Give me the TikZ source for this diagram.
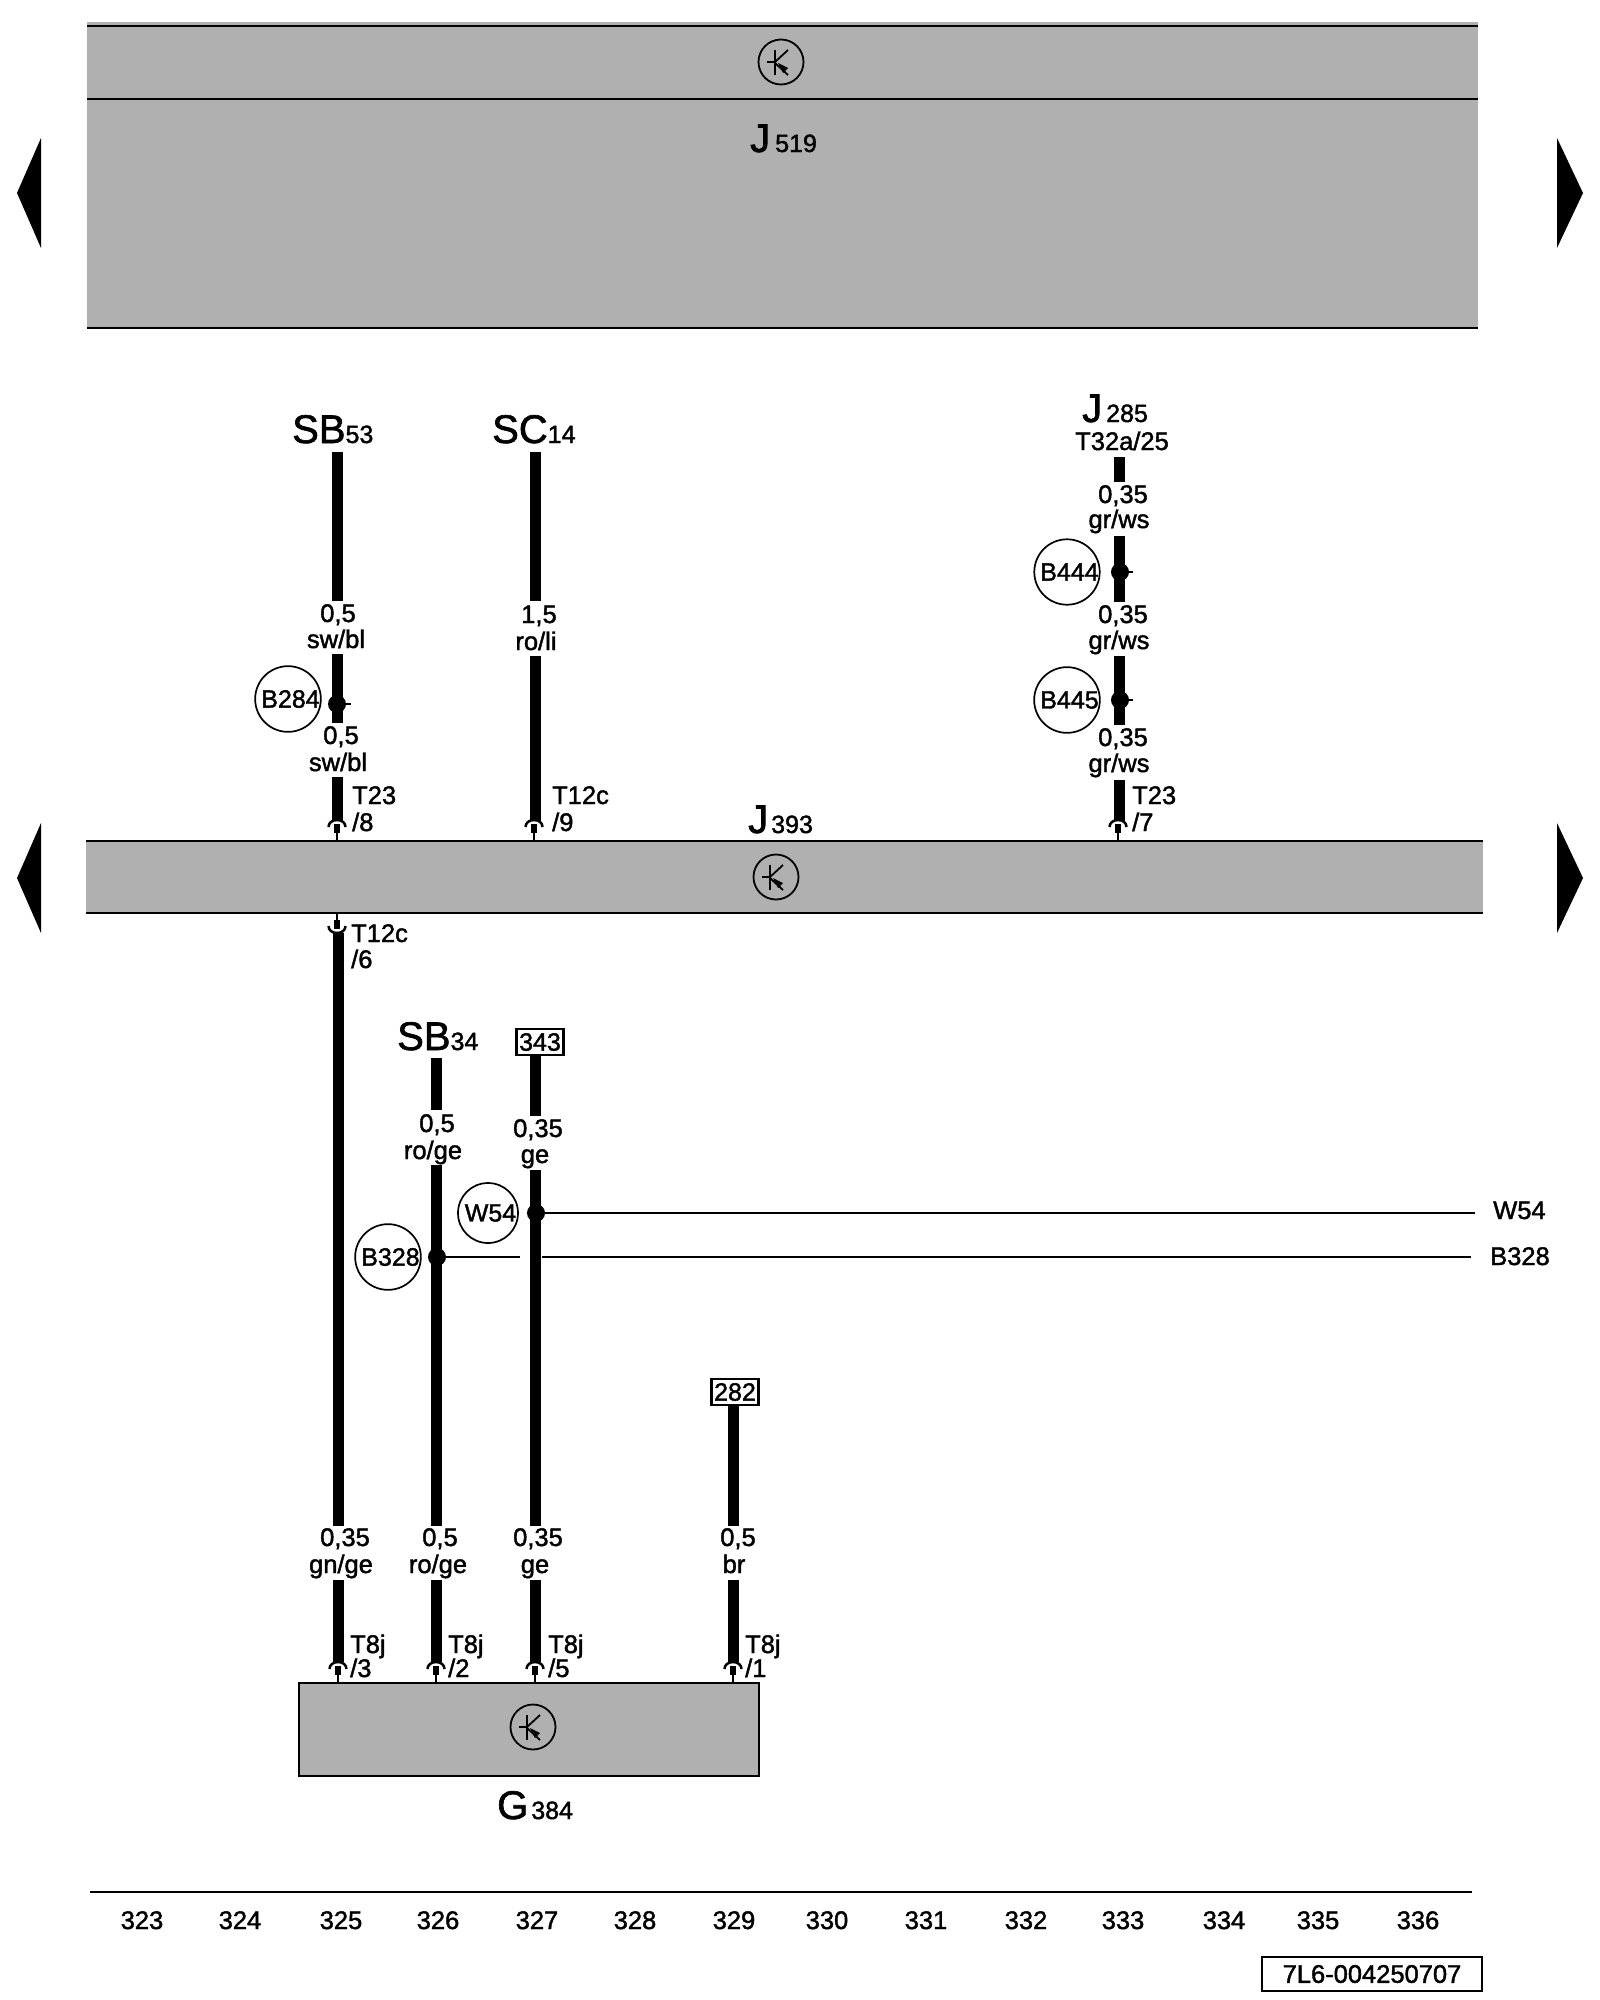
\documentclass[tikz,border=0pt]{standalone}
\usepackage{fontspec}
\setmainfont{Liberation Sans}[RawFeature={embolden=1.6}]
\definecolor{bandgray}{RGB}{176,176,176}
\newcommand{\reftag}[3]{{\fontsize{40}{40}\selectfont #1}\hspace{#3}{\fontsize{25}{25}\selectfont #2}}
\tikzset{
  pinup/.pic={
    \draw[line width=2.5] (-8.5,7) .. controls (-8.5,3) and (-5,0) .. (0,0) .. controls (5,0) and (8.5,3) .. (8.5,7);
    \draw[line width=6] (0,4) -- (0,13);
    \draw[line width=2] (0,13) -- (0,20);
  },
  transistor/.pic={
    \draw[line width=1.8] (-6,-12) -- (-6,13);
    \draw[line width=1.8] (-14,0) -- (-6,0);
    \draw[line width=1.8] (-6,0) -- (7,-12);
    \draw[line width=1.8] (-6,1) -- (7,13);
    \fill (-3,1) -- (7,6) -- (2,11) -- cycle;
  }
}
\begin{document}
\begin{tikzpicture}[x=1pt,y=-1pt]
    \tikzstyle{wire}=[line width=11]
    \tikzstyle{thin wire}=[line width=2]
    \tikzstyle{splice}=[circle,fill=black,inner sep=0,minimum size=18]
    \tikzstyle{ref circle}=[circle,draw,line width=1.7,inner sep=0,minimum size=60,font=\fontsize{25}{25}\selectfont,execute at begin node={\hspace*{5pt}}]
    \tikzstyle{trans circle}=[circle,draw,line width=1.8,inner sep=0,minimum size=45]
    \tikzstyle{wire label}=[anchor=base,inner sep=0,font=\fontsize{25.5}{25.5}\selectfont]
    \tikzstyle{pin label}=[anchor=base west,inner sep=0,font=\fontsize{25.5}{25.5}\selectfont]
    \tikzstyle{ref label}=[anchor=base west,inner sep=0]
    \tikzstyle{page box}=[draw,line width=2.5,inner sep=0,minimum width=47,minimum height=26,font=\fontsize{25}{25}\selectfont]

    \useasboundingbox (0,0) rectangle (1600,2000);

    % control units
    \fill[bandgray] (87,22) rectangle (1478,328);
    \draw[line width=2] (87,26) -- (1478,26);
    \draw[line width=2] (87,99) -- (1478,99);
    \draw[line width=2] (87,328) -- (1478,328);
    \fill[bandgray] (86,841) rectangle (1483,913);
    \draw[line width=2] (86,841) -- (1483,841);
    \draw[line width=2] (86,913) -- (1483,913);
    \node(g384)[draw,line width=2,fill=bandgray,minimum width=460,minimum height=93,inner sep=0] at (529,1729.5){};

    \node(t519)[trans circle] at (781,62){};
    \pic at (t519) {transistor};
    \node(t393)[trans circle] at (776,877){};
    \pic at (t393) {transistor};
    \node(tg384)[trans circle] at (533,1727){};
    \pic at (tg384) {transistor};

    % page arrows
    \foreach \ytop/\ytip/\ybot in {138/193/248,823/878/933}{
        \fill (41,\ytop) -- (17,\ytip) -- (41,\ybot) -- cycle;
        \fill (1557,\ytop) -- (1583,\ytip) -- (1557,\ybot) -- cycle;
    }

    % wires
    \foreach \wname/\xpos/\ytop/\ybot in {
        a1/337/452/601,a2/337/654/723,a3/337/777/821,
        b1/535/452/601,b2/535/656/821,
        c1/1119/457/482,c2/1119/536/602,c3/1119/656/725,c4/1119/780/821,
        d1/338/933/1526,d2/338/1580/1662,
        e1/436/1058/1110,e2/436/1165/1526,e3/436/1580/1662,
        f1/535/1055/1116,f2/535/1170/1526,f3/535/1580/1662,
        g1/733/1405/1526,g2/733/1580/1662}{
        \coordinate(\wname top) at (\xpos,\ytop);
        \coordinate(\wname bot) at (\xpos,\ybot);
        \draw[wire] (\wname top) -- (\wname bot);
    }

    % connector pins
    \foreach \xpos/\ypos in {337/820,534/820,1118/820,338/1662,436/1662,535/1662,733/1662}{
        \pic at (\xpos,\ypos) {pinup};
    }
    \pic[yscale=-1] at (337,933) {pinup};

    % splices
    \node(s284)[splice] at (337,704){};
    \node(s444)[splice] at (1120,572){};
    \node(s445)[splice] at (1120,700){};
    \node(s54)[splice] at (536,1213){};
    \node(s328)[splice] at (437,1257){};
    \coordinate(e284) at (351,704);
    \coordinate(e444) at (1133,572);
    \coordinate(e445) at (1133,700);
    \coordinate(e54) at (1475,1213);
    \coordinate(b328a) at (520,1257);
    \coordinate(b328b) at (542,1257);
    \coordinate(e328) at (1471,1257);
    \draw[thin wire] (s284) -- (e284);
    \draw[thin wire] (s444) -- (e444);
    \draw[thin wire] (s445) -- (e445);
    \draw[thin wire] (s54) -- (e54);
    \draw[thin wire] (s328) -- (b328a);
    \draw[thin wire] (b328b) -- (e328);

    \node(c284)[ref circle] at (288,699){B284};
    \node(c444)[ref circle] at (1067,572){B444};
    \node(c445)[ref circle] at (1067,700){B445};
    \node(c54)[ref circle,execute at begin node={}] at (488,1213){W54};
    \node(c328)[ref circle] at (388,1257){B328};

    % wire sizes and colours
    \foreach \xpos/\ypos/\txt [count=\i] in {
        338/622/{0,5},336/648/sw\slash bl,341/744/{0,5},338/771/sw\slash bl,
        539/623/{1,5},536/650/ro\slash li,
        1122/450/T32a\slash 25,
        1123/503/{0,35},1119/528/gr\slash ws,1123/623/{0,35},1119/649/gr\slash ws,
        1123/746/{0,35},1119/772/gr\slash ws,
        437/1132/{0,5},433/1159/ro\slash ge,538/1137/{0,35},535/1163/ge,
        345/1546/{0,35},341/1573/gn\slash ge,440/1546/{0,5},438/1573/ro\slash ge,
        538/1546/{0,35},535/1573/ge,738/1546/{0,5},734/1573/br}{
        \node(w\i)[wire label] at (\xpos,\ypos){\txt};
    }

    % pin names
    \foreach \xpos/\ypos/\txt [count=\i] in {
        352/804/T23,352/831/\slash 8,552/804/T12c,552/831/\slash 9,
        1132/804/T23,1132/831/\slash 7,351/942/T12c,351/968/\slash 6,
        350/1653/T8j,350/1677/\slash 3,448/1653/T8j,448/1677/\slash 2,
        548/1653/T8j,548/1677/\slash 5,745/1653/T8j,745/1677/\slash 1,
        1493/1219/W54,1490/1265/B328}{
        \node(p\i)[pin label] at (\xpos,\ypos){\txt};
    }

    % component names
    \node(n519)[ref label] at (750,152){\reftag{J}{519}{5pt}};
    \node(n393)[ref label] at (748,833){\reftag{J}{393}{3pt}};
    \node(n285)[ref label] at (1082,422){\reftag{J}{285}{4pt}};
    \node(n384)[ref label] at (497,1819){\reftag{G}{384}{3pt}};
    \node(n53)[ref label] at (292,443){\reftag{SB}{53}{0pt}};
    \node(n14)[ref label] at (492,443){\reftag{SC}{14}{0pt}};
    \node(n34)[ref label] at (397,1050){\reftag{SB}{34}{0pt}};

    \node(k343)[page box] at (540,1042){343};
    \node(k282)[page box] at (735,1392){282};

    % track numbers
    \coordinate(axisa) at (90,1892);
    \coordinate(axisb) at (1472,1892);
    \draw[line width=2] (axisa) -- (axisb);
    \foreach \num/\xpos in {323/142,324/240,325/341,326/438,327/537,328/635,329/734,330/827,
        331/926,332/1026,333/1123,334/1224,335/1318,336/1418}{
        \node(t\num)[wire label] at (\xpos,1929){\num};
    }
    \node(code)[draw,line width=2.5,inner sep=0,minimum width=220,minimum height=34,font=\fontsize{25.5}{25.5}\selectfont] at (1372,1974){7L6-004250707};
\end{tikzpicture}
\end{document}
